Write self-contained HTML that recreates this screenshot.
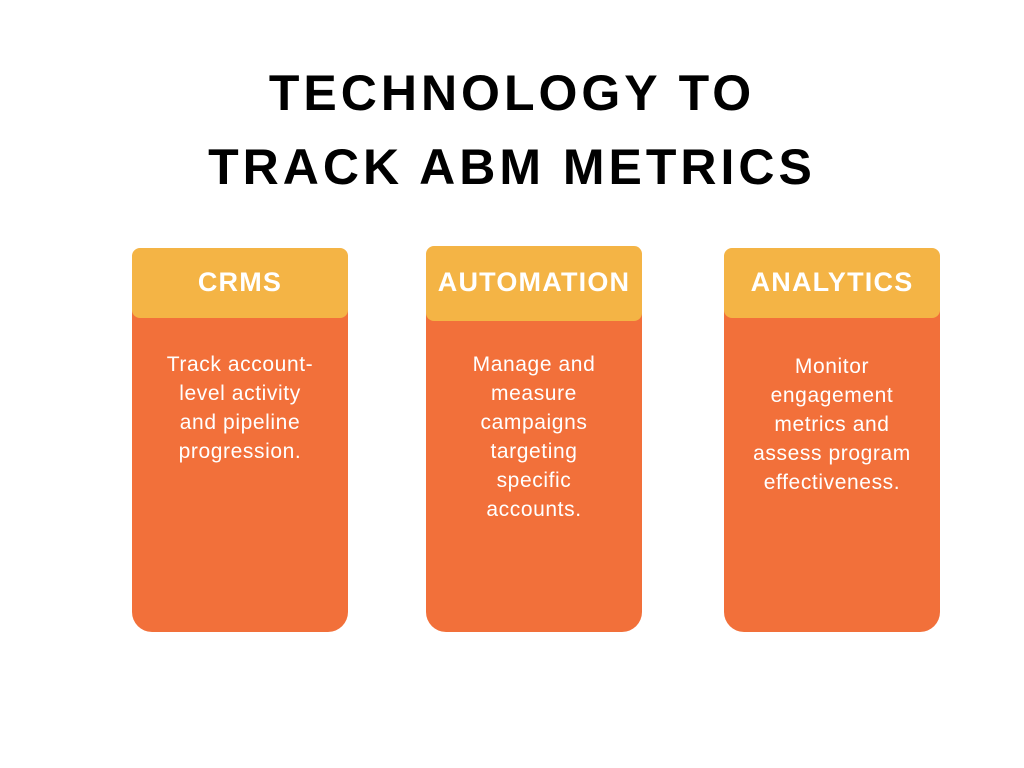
<!DOCTYPE html>
<html><head><style>
body{margin:0;width:1024px;height:768px;background:#fff;position:relative;font-family:"Liberation Sans",sans-serif;overflow:hidden}
.t{position:absolute;left:0;width:1024px;text-align:center;font-weight:bold;font-size:50px;letter-spacing:4px;color:#000;line-height:60px}
.card{position:absolute;width:216px;background:#F2703A;border-radius:10px 10px 20px 20px}
.h{position:absolute;left:0;top:0;width:216px;background:#F4B445;border-radius:8px;color:#fff;font-weight:bold;font-size:27px;letter-spacing:1.2px;text-align:center}
.b{position:absolute;left:8px;width:200px;color:#fff;font-size:21px;letter-spacing:0.6px;line-height:29px;text-align:center}
</style></head><body>
<div class="t" style="top:63px">TECHNOLOGY TO</div>
<div class="t" style="top:137px">TRACK ABM METRICS</div>
<div class="card" style="left:132px;top:248px;height:384px">
<div class="h" style="height:70px;line-height:68px">CRMS</div>
<div class="b" style="top:102px">Track account-<br>level activity<br>and pipeline<br>progression.</div></div>
<div class="card" style="left:426px;top:246px;height:386px">
<div class="h" style="height:75px;line-height:72px">AUTOMATION</div>
<div class="b" style="top:104px">Manage and<br>measure<br>campaigns<br>targeting<br>specific<br>accounts.</div></div>
<div class="card" style="left:724px;top:248px;height:384px">
<div class="h" style="height:70px;line-height:68px">ANALYTICS</div>
<div class="b" style="top:104px">Monitor<br>engagement<br>metrics and<br>assess program<br>effectiveness.</div></div>
</body></html>
